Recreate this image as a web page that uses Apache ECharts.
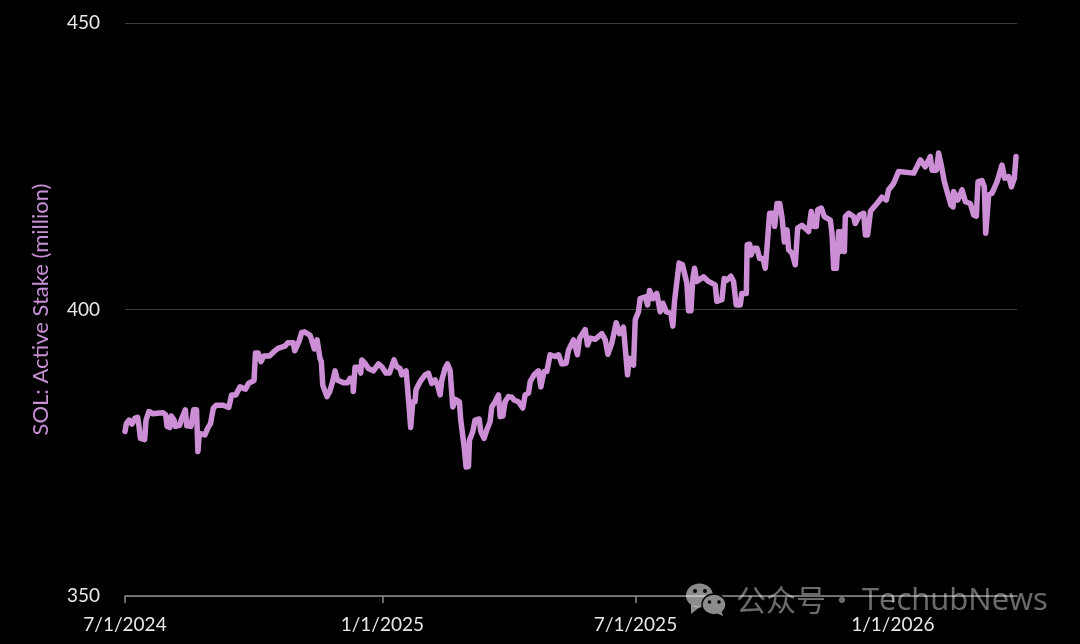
<!DOCTYPE html>
<html>
<head>
<meta charset="utf-8">
<style>html,body{margin:0;padding:0;background:#000}#c{width:1080px;height:644px}</style>
<script src="https://cdn.jsdelivr.net/npm/echarts@6/dist/echarts.min.js"></script>
</head>
<body>
<div id="c"></div>
<script>
const endDay = 636;
const tickDays = [0, 183.5, 364, 547.5];
const tickLabels = ['7/1/2024', '1/1/2025', '7/1/2025', '1/1/2026'];
const yTicks = [350, 400, 450];
const seriesName = 'SOL: Active Stake (million)';
const days = [
0,1,3,5,7,9,10,11,14,15,17,20,23,27,29,30,32,33,35,36,39,40,43,44,47,49,51,52,53,57,59,61,63,65,70,74,76,79,82,86,88,92,93,95,97,99,103,106,109,114,116,120,121,124,126,128,132,135,137,138,139,140,141,144,146,148,149.8,151.4,
155.7,158.6,160.5,162.4,162.8,164,167.1,168.1,168.8,171.2,173.5,177.1,180.7,183.1,186.1,188.5,191.8,193.8,196.1,197.3,200.4,201.4,202.8,203.7,205.2,206.8,207.5,210.4,214,216.3,218.7,221.1,222.8,224.7,225.9,228.2,229.9,231.8,233.7,234.9,235.8,238.4,239.4,240.8,241.8,243.2,244.9,245.6,248,249.6,252.5,253.7,256,258,260.3,261.5,263.9,266.3,267.5,269.4,271,273.4,275.8,277.4,280.5,283.6,285.3,287.7,288.9,291.7,294.8,296.5,297.7,298.8,
300.8,303.1,306.7,309.1,311.5,314.5,316.2,319.8,322.6,324.1,328.1,329.8,331.7,335.2,340,342.4,344.3,347.1,350.2,352.6,355.4,358.3,359.7,362.6,363.8,366.1,367.3,370.9,372.6,374,376.4,379.2,381.6,383.5,385.9,389.2,390.6,391.8,393.5,395.1,397.5,400.6,401.8,403.5,404.9,406.1,407.7,412.5,416.1,418.4,420.8,422,425.6,427.2,429.1,432,433.9,435.8,438.7,439.8,443,443.6,445.4,446.3,448.5,450.6,452.5,454.9,456.5,457.7,459.6,462.5,463.2,464.9,466.8,468.4,470.1,472,473.2,475.6,477.9,479.1,479.6,482.7,487.4,489.3,491,492.9,493.9,496.5,498.6,502.9,504.1,505.3,507.2,508.8,510,511.2,512.9,513.6,516,519.5,520.7,523.8,526.7,527.9,529.5,531.6,
536.2,539.7,542.8,544.5,548,551.6,562.3,567.1,570.6,574.2,575.4,578.5,580.1,582,584.2,588.9,590.4,590.8,593.7,596.8,599.2,602.7,605.1,607,608.2,611,612.7,613.7,615.1,615.8,618.2,621.8,625.3,627.2,630.1,632,634.1,635.3
];
const stake = [
378.7,380.1,380.7,380.0,381.0,381.2,379.6,377.5,377.3,380.7,382.2,381.8,381.9,382.0,381.6,379.6,379.4,381.4,380.7,379.6,379.8,380.7,382.5,379.7,379.6,382.5,382.5,375.2,378.4,378.1,379.3,380.1,382.8,383.3,383.3,382.9,385.1,385.1,386.5,386.1,387.1,387.6,392.4,392.4,390.9,391.9,391.9,392.6,393.2,393.6,394.2,394.2,392.8,394.4,396.0,396.1,395.5,393.1,394.7,394.7,391.5,390.9,386.8,384.8,385.7,387.4,389.3,387.7,
387.2,387.2,388.0,388.0,385.7,389.9,389.9,388.9,391.2,390.6,389.7,389.3,390.5,390.0,388.9,388.9,391.2,390.0,389.7,388.6,389.3,386.5,386.2,379.4,383.9,383.9,386.0,387.4,388.6,388.9,387.1,387.7,386.8,385.1,387.7,389.7,390.5,389.4,383.0,383.0,384.3,383.9,380.7,380.7,376.1,372.5,372.6,377.2,378.7,380.7,380.9,378.7,377.5,379.0,380.4,383.0,383.9,385.1,381.3,381.4,383.9,384.8,384.7,384.2,383.9,382.8,385.1,385.4,387.4,388.6,389.3,386.5,386.5,389.2,
389.2,392.1,391.8,392.1,390.5,390.6,392.9,394.7,392.1,395.0,396.5,393.8,395.0,394.8,395.8,394.7,392.2,394.1,397.7,395.8,396.9,388.6,391.5,390.3,398.2,399.6,401.9,402.2,400.8,403.3,401.9,402.8,399.6,401.1,399.6,399.3,397.1,401.4,404.9,408.1,407.8,404.6,399.8,399.8,405.4,407.2,404.9,405.7,404.9,404.6,404.3,401.4,401.7,405.4,405.1,405.8,404.9,400.8,400.8,402.8,402.8,411.3,411.4,409.5,410.7,410.7,408.9,408.9,407.2,410.7,416.8,416.8,414.5,418.5,418.5,416.2,411.8,413.9,410.4,409.8,407.8,407.8,414.2,414.7,413.6,417.1,414.5,414.5,417.4,417.7,416.2,415.6,413.3,407.2,407.2,413.6,410.1,413.6,410.1,416.2,416.8,416.2,415.0,416.5,416.8,413.0,413.0,417.2,
418.5,419.6,419.1,420.9,422.0,424.1,423.8,426.1,424.9,426.7,424.3,424.3,427.3,425.2,422.3,418.2,417.9,420.6,419.1,420.9,418.8,418.5,416.5,416.3,422.3,422.5,421.4,413.3,413.3,420.0,420.3,422.3,425.2,422.9,423.2,421.4,422.9,426.7
];
const lineData = days.map((d, i) => [d, stake[i]]);
const labelFont = 'Lato, "Open Sans", sans-serif';
const wm = 'rgba(255,255,255,0.55)';
const wmText = 'rgba(255,255,255,0.42)';

const chart = echarts.init(document.getElementById('c'), null, {renderer: 'canvas'});
chart.setOption({
  backgroundColor: '#000000',
  animation: false,
  grid: {left: 125, right: 63, top: 23, bottom: 48, containLabel: false},
  xAxis: {
    type: 'value',
    min: 0,
    max: endDay,
    axisLine: {show: true, lineStyle: {color: '#8c8c8c', width: 1.5}},
    axisTick: {show: true, length: 7, customValues: tickDays, lineStyle: {color: '#8c8c8c', width: 1.5}},
    axisLabel: {
      show: true,
      customValues: tickDays,
      color: '#e8e8e8',
      fontFamily: labelFont,
      fontSize: 19,
      margin: 19,
      formatter: v => tickLabels[tickDays.indexOf(v)] || ''
    },
    splitLine: {show: false}
  },
  yAxis: {
    type: 'value',
    min: yTicks[0],
    max: yTicks[2],
    interval: 50,
    name: seriesName,
    nameLocation: 'middle',
    nameGap: 73,
    nameRotate: 90,
    nameTextStyle: {color: '#c88fd4', fontFamily: labelFont, fontSize: 22},
    axisLine: {show: false},
    axisTick: {show: false},
    axisLabel: {color: '#e8e8e8', fontFamily: labelFont, fontSize: 19, margin: 25, padding: [3, 0, 0, 0]},
    splitLine: {show: true, lineStyle: {color: '#3c3c3c', width: 1}}
  },
  series: [{
    name: seriesName,
    type: 'line',
    data: lineData,
    showSymbol: false,
    smooth: false,
    lineStyle: {color: '#cc8fd6', width: 5.5, join: 'round', cap: 'round'},
    z: 3
  }],
  graphic: [
    {type: 'ellipse', z: 10, shape: {cx: 699.5, cy: 595.5, rx: 13.5, ry: 12}, style: {fill: wm}},
    {type: 'polygon', z: 10, shape: {points: [[691, 605], [691, 614], [700, 607]]}, style: {fill: wm}},
    {type: 'ellipse', z: 11, shape: {cx: 714, cy: 604.5, rx: 12, ry: 10.5}, style: {fill: '#8c8c8c', stroke: '#000', lineWidth: 1.5}},
    {type: 'polygon', z: 11, shape: {points: [[716, 613], [723, 616], [721, 609]]}, style: {fill: '#8c8c8c'}},
    {type: 'circle', z: 12, shape: {cx: 695, cy: 591, r: 2}, style: {fill: '#000'}},
    {type: 'circle', z: 12, shape: {cx: 705, cy: 591, r: 2}, style: {fill: '#000'}},
    {type: 'circle', z: 12, shape: {cx: 709.5, cy: 602, r: 1.8}, style: {fill: '#000'}},
    {type: 'circle', z: 12, shape: {cx: 719, cy: 602, r: 1.8}, style: {fill: '#000'}},
    {type: 'text', z: 12, left: 736, top: 585, style: {text: '公众号', fill: wmText, font: '30px "Noto Sans CJK SC"'}},
    {type: 'text', z: 12, left: 827, top: 585, style: {text: '·', fill: wmText, font: '30px "Noto Sans CJK SC"'}},
    {type: 'text', z: 12, left: 862, top: 586, style: {text: 'TechubNews', fill: wmText, font: '31px "Open Sans"'}}
  ]
});
</script>
</body>
</html>
